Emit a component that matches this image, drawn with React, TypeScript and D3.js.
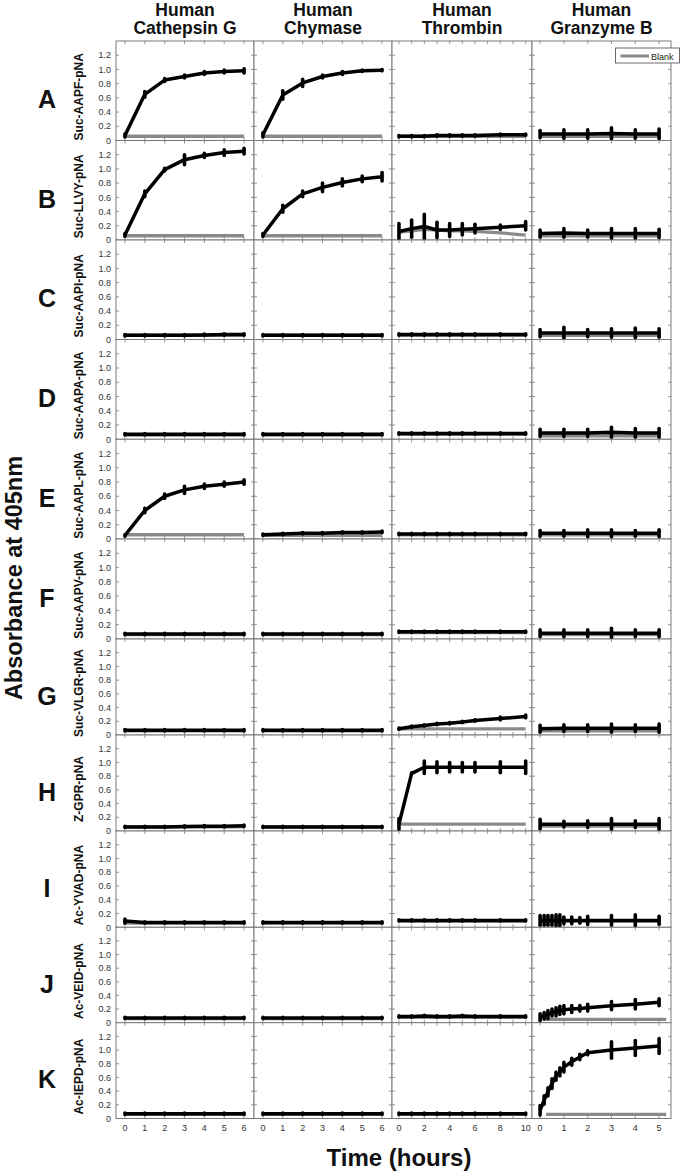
import React from "react";
import * as d3 from "d3";

// column headers (two lines each)
const enzymes = [
  ["Human", "Cathepsin G"],
  ["Human", "Chymase"],
  ["Human", "Thrombin"],
  ["Human", "Granzyme B"],
];
const rowLetters = ["A", "B", "C", "D", "E", "F", "G", "H", "I", "J", "K"];
const substrates = [
  "Suc-AAPF-pNA",
  "Suc-LLVY-pNA",
  "Suc-AAPI-pNA",
  "Suc-AAPA-pNA",
  "Suc-AAPL-pNA",
  "Suc-AAPV-pNA",
  "Suc-VLGR-pNA",
  "Z-GPR-pNA",
  "Ac-YVAD-pNA",
  "Ac-VEID-pNA",
  "Ac-IEPD-pNA",
];

// sampling times (hours)
const catTimes = [0, 1, 2, 3, 4, 5, 6];
const thrTimes = [0, 1, 2, 3, 4, 5, 6, 8, 10];
const gzTimes = [0, 1, 2, 3, 4, 5];
const gzFineTimes = [0, 0.17, 0.33, 0.5, 0.67, 0.83, 1, 1.33, 1.67, 2, 3, 4, 5];
const gzLateBlankTimes = [0.25, 1, 2, 3, 4, 5.3];

const xTicks = [
  [0, 1, 2, 3, 4, 5, 6],
  [0, 1, 2, 3, 4, 5, 6],
  [0, 1, 2, 3, 4, 5, 6, 7, 8, 9, 10],
  [0, 1, 2, 3, 4, 5],
];
const xTickLabels = [
  [0, 1, 2, 3, 4, 5, 6],
  [0, 1, 2, 3, 4, 5, 6],
  [0, 2, 4, 6, 8, 10],
  [0, 1, 2, 3, 4, 5],
];
const yTicks = [0, 0.2, 0.4, 0.6, 0.8, 1.0, 1.2];
const yTickLabels = ["0", "0.2", "0.4", "0.6", "0.8", "1.0", "1.2"];

// per substrate: [cathepsin G, chymase, thrombin, granzyme B]
const aapfMean = [
  [0.07, 0.65, 0.85, 0.9, 0.95, 0.97, 0.98],
  [0.08, 0.64, 0.81, 0.9, 0.95, 0.98, 0.99],
  [0.06, 0.06, 0.06, 0.07, 0.07, 0.07, 0.07, 0.08, 0.08],
  [0.09, 0.09, 0.09, 0.1, 0.09, 0.09],
];
const aapfErr = [
  [0.02, 0.04, 0.02, 0.02, 0.02, 0.02, 0.03],
  [0.03, 0.06, 0.05, 0.02, 0.02, 0.01, 0.01],
  [0.01, 0.01, 0.01, 0.01, 0.01, 0.01, 0.01, 0.01, 0.01],
  [0.05, 0.06, 0.06, 0.08, 0.06, 0.07],
];
const aapfBlank = [
  [0.06, 0.06, 0.06, 0.06, 0.06, 0.06, 0.06],
  [0.06, 0.06, 0.06, 0.06, 0.06, 0.06, 0.06],
  [0.06, 0.06, 0.06, 0.06, 0.06, 0.06, 0.06, 0.06, 0.06],
  [0.06, 0.06, 0.06, 0.06, 0.06, 0.06],
];

const llvyMean = [
  [0.07, 0.65, 0.99, 1.13, 1.19, 1.23, 1.25],
  [0.07, 0.44, 0.65, 0.74, 0.81, 0.86, 0.89],
  [0.12, 0.16, 0.19, 0.14, 0.14, 0.15, 0.16, 0.18, 0.2],
  [0.09, 0.1, 0.09, 0.09, 0.09, 0.09],
];
const llvyErr = [
  [0.02, 0.04, 0.02, 0.07, 0.03, 0.04, 0.04],
  [0.02, 0.05, 0.04, 0.06, 0.05, 0.04, 0.06],
  [0.11, 0.12, 0.17, 0.11, 0.09, 0.08, 0.06, 0.03, 0.06],
  [0.05, 0.06, 0.05, 0.07, 0.07, 0.06],
];
const llvyBlank = [
  [0.06, 0.06, 0.06, 0.06, 0.06, 0.06, 0.06],
  [0.06, 0.06, 0.06, 0.06, 0.06, 0.06, 0.06],
  [0.11, 0.13, 0.15, 0.14, 0.13, 0.13, 0.12, 0.1, 0.07],
  [0.06, 0.06, 0.06, 0.06, 0.06, 0.06],
];

const aapiMean = [
  [0.06, 0.06, 0.06, 0.06, 0.065, 0.07, 0.07],
  [0.06, 0.06, 0.06, 0.06, 0.06, 0.06, 0.06],
  [0.07, 0.07, 0.07, 0.07, 0.07, 0.07, 0.07, 0.07, 0.07],
  [0.09, 0.09, 0.09, 0.09, 0.09, 0.09],
];
const aapiErr = [
  [0.01, 0.01, 0.01, 0.01, 0.01, 0.01, 0.01],
  [0.01, 0.01, 0.01, 0.01, 0.01, 0.01, 0.01],
  [0.01, 0.01, 0.01, 0.01, 0.01, 0.01, 0.01, 0.01, 0.01],
  [0.05, 0.08, 0.05, 0.06, 0.07, 0.06],
];
const aapiBlank = [
  [0.06, 0.06, 0.06, 0.06, 0.06, 0.06, 0.06],
  [0.06, 0.06, 0.06, 0.06, 0.06, 0.06, 0.06],
  [0.06, 0.06, 0.06, 0.06, 0.06, 0.06, 0.06, 0.06, 0.06],
  [0.06, 0.06, 0.06, 0.06, 0.06, 0.06],
];

const aapaMean = [
  [0.07, 0.07, 0.07, 0.07, 0.07, 0.07, 0.07],
  [0.07, 0.07, 0.07, 0.07, 0.07, 0.07, 0.07],
  [0.08, 0.08, 0.08, 0.08, 0.08, 0.08, 0.08, 0.08, 0.08],
  [0.09, 0.09, 0.09, 0.1, 0.09, 0.09],
];
const aapaErr = [
  [0.01, 0.01, 0.01, 0.01, 0.01, 0.01, 0.01],
  [0.01, 0.01, 0.01, 0.01, 0.01, 0.01, 0.01],
  [0.01, 0.01, 0.01, 0.01, 0.01, 0.01, 0.01, 0.01, 0.01],
  [0.05, 0.05, 0.05, 0.07, 0.06, 0.06],
];
const aapaBlank = [
  [0.06, 0.06, 0.06, 0.06, 0.06, 0.06, 0.06],
  [0.06, 0.06, 0.06, 0.06, 0.06, 0.06, 0.06],
  [0.07, 0.07, 0.07, 0.07, 0.07, 0.07, 0.07, 0.07, 0.07],
  [0.05, 0.05, 0.05, 0.05, 0.05, 0.05],
];

const aaplMean = [
  [0.05, 0.4, 0.6, 0.69, 0.74, 0.77, 0.8],
  [0.06, 0.07, 0.08, 0.08, 0.09, 0.09, 0.1],
  [0.07, 0.07, 0.07, 0.07, 0.07, 0.07, 0.07, 0.07, 0.07],
  [0.08, 0.08, 0.08, 0.08, 0.08, 0.08],
];
const aaplErr = [
  [0.01, 0.03, 0.03, 0.05, 0.03, 0.03, 0.03],
  [0.01, 0.01, 0.01, 0.01, 0.01, 0.01, 0.01],
  [0.01, 0.01, 0.01, 0.01, 0.01, 0.01, 0.01, 0.01, 0.01],
  [0.04, 0.04, 0.05, 0.05, 0.04, 0.05],
];
const aaplBlank = [
  [0.06, 0.06, 0.06, 0.06, 0.06, 0.06, 0.06],
  [0.05, 0.05, 0.05, 0.05, 0.05, 0.05, 0.05],
  [0.06, 0.06, 0.06, 0.06, 0.06, 0.06, 0.06, 0.06, 0.06],
  [0.06, 0.06, 0.06, 0.06, 0.06, 0.06],
];

const aapvMean = [
  [0.07, 0.07, 0.07, 0.07, 0.07, 0.07, 0.07],
  [0.07, 0.07, 0.07, 0.07, 0.07, 0.07, 0.07],
  [0.1, 0.1, 0.1, 0.1, 0.1, 0.1, 0.1, 0.1, 0.1],
  [0.08, 0.08, 0.08, 0.08, 0.08, 0.08],
];
const aapvErr = [
  [0.01, 0.01, 0.01, 0.01, 0.01, 0.01, 0.01],
  [0.01, 0.01, 0.01, 0.01, 0.01, 0.01, 0.01],
  [0.01, 0.01, 0.01, 0.01, 0.01, 0.01, 0.01, 0.01, 0.01],
  [0.05, 0.05, 0.05, 0.07, 0.05, 0.05],
];
const aapvBlank = [
  [0.06, 0.06, 0.06, 0.06, 0.06, 0.06, 0.06],
  [0.06, 0.06, 0.06, 0.06, 0.06, 0.06, 0.06],
  [0.09, 0.09, 0.09, 0.09, 0.09, 0.09, 0.09, 0.09, 0.09],
  [0.06, 0.06, 0.06, 0.06, 0.06, 0.06],
];

const vlgrMean = [
  [0.07, 0.07, 0.07, 0.07, 0.07, 0.07, 0.07],
  [0.07, 0.07, 0.07, 0.07, 0.07, 0.07, 0.07],
  [0.09, 0.12, 0.14, 0.16, 0.17, 0.19, 0.21, 0.24, 0.27],
  [0.09, 0.1, 0.1, 0.1, 0.1, 0.1],
];
const vlgrErr = [
  [0.01, 0.01, 0.01, 0.01, 0.01, 0.01, 0.01],
  [0.01, 0.01, 0.01, 0.01, 0.01, 0.01, 0.01],
  [0.01, 0.01, 0.01, 0.01, 0.01, 0.01, 0.01, 0.02, 0.02],
  [0.05, 0.05, 0.05, 0.06, 0.05, 0.06],
];
const vlgrBlank = [
  [0.06, 0.06, 0.06, 0.06, 0.06, 0.06, 0.06],
  [0.06, 0.06, 0.06, 0.06, 0.06, 0.06, 0.06],
  [0.09, 0.09, 0.09, 0.09, 0.09, 0.09, 0.09, 0.09, 0.09],
  [0.06, 0.06, 0.06, 0.06, 0.06, 0.06],
];

const gprMean = [
  [0.06, 0.06, 0.06, 0.065, 0.07, 0.07, 0.075],
  [0.06, 0.06, 0.06, 0.06, 0.06, 0.06, 0.06],
  [0.1, 0.84, 0.93, 0.93, 0.93, 0.93, 0.93, 0.93, 0.93],
  [0.1, 0.1, 0.1, 0.1, 0.1, 0.1],
];
const gprErr = [
  [0.01, 0.01, 0.01, 0.01, 0.01, 0.01, 0.01],
  [0.01, 0.01, 0.01, 0.01, 0.01, 0.01, 0.01],
  [0.08, 0.01, 0.09, 0.08, 0.07, 0.07, 0.07, 0.08, 0.09],
  [0.07, 0.04, 0.05, 0.08, 0.05, 0.08],
];
const gprBlank = [
  [0.06, 0.06, 0.06, 0.06, 0.06, 0.06, 0.06],
  [0.06, 0.06, 0.06, 0.06, 0.06, 0.06, 0.06],
  [0.1, 0.1, 0.1, 0.1, 0.1, 0.1, 0.1, 0.1, 0.1],
  [0.07, 0.07, 0.07, 0.07, 0.07, 0.07],
];

const yvadMean = [
  [0.09, 0.07, 0.07, 0.07, 0.07, 0.07, 0.07],
  [0.07, 0.07, 0.07, 0.07, 0.07, 0.07, 0.07],
  [0.1, 0.1, 0.1, 0.1, 0.1, 0.1, 0.1, 0.1, 0.1],
  [0.1, 0.1, 0.1, 0.1, 0.1, 0.1, 0.1, 0.1, 0.1, 0.1, 0.1, 0.1, 0.1],
];
const yvadErr = [
  [0.03, 0.01, 0.01, 0.01, 0.01, 0.01, 0.01],
  [0.01, 0.01, 0.01, 0.01, 0.01, 0.01, 0.01],
  [0.01, 0.01, 0.01, 0.01, 0.01, 0.01, 0.01, 0.01, 0.01],
  [0.07, 0.07, 0.07, 0.07, 0.08, 0.08, 0.05, 0.05, 0.04, 0.06, 0.07, 0.08, 0.06],
];
const yvadBlank = [
  [0.06, 0.06, 0.06, 0.06, 0.06, 0.06, 0.06],
  [0.06, 0.06, 0.06, 0.06, 0.06, 0.06, 0.06],
  [0.09, 0.09, 0.09, 0.09, 0.09, 0.09, 0.09, 0.09, 0.09],
  [0.09, 0.09, 0.09, 0.09, 0.09, 0.09, 0.09, 0.09, 0.09, 0.09, 0.09, 0.09, 0.09],
];

const veidMean = [
  [0.07, 0.07, 0.07, 0.07, 0.07, 0.07, 0.07],
  [0.07, 0.07, 0.07, 0.07, 0.07, 0.07, 0.07],
  [0.09, 0.09, 0.1, 0.09, 0.09, 0.1, 0.09, 0.09, 0.09],
  [0.08, 0.1, 0.12, 0.15, 0.16, 0.18, 0.19, 0.2, 0.21, 0.22, 0.25, 0.27, 0.3],
];
const veidErr = [
  [0.01, 0.01, 0.01, 0.01, 0.01, 0.01, 0.01],
  [0.01, 0.01, 0.01, 0.01, 0.01, 0.01, 0.01],
  [0.01, 0.01, 0.01, 0.01, 0.01, 0.01, 0.01, 0.01, 0.01],
  [0.05, 0.05, 0.06, 0.05, 0.06, 0.06, 0.06, 0.05, 0.04, 0.05, 0.06, 0.07, 0.05],
];
const veidBlank = [
  [0.06, 0.06, 0.06, 0.06, 0.06, 0.06, 0.06],
  [0.06, 0.06, 0.06, 0.06, 0.06, 0.06, 0.06],
  [0.08, 0.08, 0.08, 0.08, 0.08, 0.08, 0.08, 0.08, 0.08],
  [0.05, 0.05, 0.05, 0.05, 0.05, 0.05],
];

const iepdMean = [
  [0.07, 0.07, 0.07, 0.07, 0.07, 0.07, 0.07],
  [0.07, 0.07, 0.07, 0.07, 0.07, 0.07, 0.07],
  [0.07, 0.07, 0.07, 0.07, 0.07, 0.07, 0.07, 0.07, 0.07],
  [0.12, 0.27, 0.39, 0.51, 0.62, 0.68, 0.75, 0.83, 0.9, 0.96, 1.0, 1.03, 1.06],
];
const iepdErr = [
  [0.01, 0.01, 0.01, 0.01, 0.01, 0.01, 0.01],
  [0.01, 0.01, 0.01, 0.01, 0.01, 0.01, 0.01],
  [0.01, 0.01, 0.01, 0.01, 0.01, 0.01, 0.01, 0.01, 0.01],
  [0.07, 0.06, 0.06, 0.07, 0.06, 0.06, 0.07, 0.05, 0.04, 0.03, 0.12, 0.11, 0.11],
];
const iepdBlank = [
  [0.06, 0.06, 0.06, 0.06, 0.06, 0.06, 0.06],
  [0.06, 0.06, 0.06, 0.06, 0.06, 0.06, 0.06],
  [0.06, 0.06, 0.06, 0.06, 0.06, 0.06, 0.06, 0.06, 0.06],
  [0.06, 0.06, 0.06, 0.06, 0.06, 0.06],
];

const rowMeans = [aapfMean, llvyMean, aapiMean, aapaMean, aaplMean, aapvMean, vlgrMean, gprMean, yvadMean, veidMean, iepdMean];
const rowErrs = [aapfErr, llvyErr, aapiErr, aapaErr, aaplErr, aapvErr, vlgrErr, gprErr, yvadErr, veidErr, iepdErr];
const rowBlanks = [aapfBlank, llvyBlank, aapiBlank, aapaBlank, aaplBlank, aapvBlank, vlgrBlank, gprBlank, yvadBlank, veidBlank, iepdBlank];

// granzyme B rows I-K were sampled every 10-20 min
const fineRows = ["I", "J", "K"];
const lateBlankRows = ["J", "K"];

// layout
const W = 684;
const H = 1176;
const colEdges = [116, 254, 392, 532, 671];
const rowEdges = [41, 140.5, 240, 339.5, 439.3, 539, 639, 735, 831, 927.3, 1022.7, 1118.5];
const xDomains = [
  [-0.45, 6.5],
  [-0.45, 6.5],
  [-0.55, 10.5],
  [-0.34, 5.5],
];
const FRAME = "#7a7a7a";
const BLANK = "#8a8a8a";
const FONT = "'Liberation Sans', Arial, Helvetica, sans-serif";

function timesFor(r: number, c: number, blank: boolean) {
  if (c < 2) return catTimes;
  if (c === 2) return thrTimes;
  const letter = rowLetters[r];
  if (blank && lateBlankRows.includes(letter)) return gzLateBlankTimes;
  if (fineRows.includes(letter)) return gzFineTimes;
  return gzTimes;
}

function Panel({ r, c }: { r: number; c: number }) {
  const x0 = colEdges[c];
  const x1 = colEdges[c + 1];
  const y0 = rowEdges[r];
  const y1 = rowEdges[r + 1];
  const x = d3.scaleLinear().domain(xDomains[c]).range([x0, x1]);
  const y = d3.scaleLinear().domain([0, 1.4]).range([y1, y0]);
  const line = d3.line<[number, number]>().x((d) => x(d[0])).y((d) => y(d[1]));

  const t = timesFor(r, c, false);
  const tb = timesFor(r, c, true);
  const mean = rowMeans[r][c];
  const err = rowErrs[r][c];
  const blank = rowBlanks[r][c];

  const meanPts = t.map((v, i) => [v, mean[i]] as [number, number]);
  const blankPts = tb.map((v, i) => [v, blank[i]] as [number, number]);

  return (
    <g>
      <rect x={x0} y={y0} width={x1 - x0} height={y1 - y0} fill="#fff" stroke={FRAME} strokeWidth={1} />
      {xTicks[c].map((v) => (
        <g key={"xt" + v} stroke={FRAME} strokeWidth={0.8}>
          <line x1={x(v)} x2={x(v)} y1={y1} y2={y1 - 3} />
          <line x1={x(v)} x2={x(v)} y1={y0} y2={y0 + 3} />
        </g>
      ))}
      {yTicks.map((v) => (
        <g key={"yt" + v} stroke={FRAME} strokeWidth={0.8}>
          <line x1={x0} x2={x0 + 3} y1={y(v)} y2={y(v)} />
          <line x1={x1} x2={x1 - 3} y1={y(v)} y2={y(v)} />
        </g>
      ))}
      <path d={line(blankPts) || ""} fill="none" stroke={BLANK} strokeWidth={3.3} />
      <path d={line(meanPts) || ""} fill="none" stroke="#000" strokeWidth={3.5} strokeLinejoin="round" />
      {meanPts.map((p, i) => (
        <line
          key={"e" + i}
          x1={x(p[0])}
          x2={x(p[0])}
          y1={y(p[1] - err[i])}
          y2={y(p[1] + err[i])}
          stroke="#000"
          strokeWidth={3.6}
          strokeLinecap="round"
        />
      ))}
      {c === 0 &&
        yTicks.map((v, i) => (
          <text key={"yl" + v} x={x0 - 5} y={y(v) + 3.2} fontSize={9} fill="#333" textAnchor="end">
            {yTickLabels[i]}
          </text>
        ))}
      {r === rowLetters.length - 1 &&
        xTickLabels[c].map((v) => (
          <text key={"xl" + v} x={x(v)} y={1130.5} fontSize={9} fill="#333" textAnchor="middle">
            {v}
          </text>
        ))}
    </g>
  );
}

export default function App() {
  return (
    <svg
      width={W}
      height={H}
      style={{ position: "absolute", left: 0, top: 0, background: "#fff" }}
      fontFamily={FONT}
    >
      <rect x={0} y={0} width={W} height={H} fill="#fff" />
      {enzymes.map((lines, c) => {
        const cx = (colEdges[c] + colEdges[c + 1]) / 2;
        return (
          <g key={"h" + c} fontWeight="bold" fontSize={17.5} textAnchor="middle" fill="#111">
            <text x={cx} y={16}>{lines[0]}</text>
            <text x={cx} y={34}>{lines[1]}</text>
          </g>
        );
      })}
      {rowLetters.map((letter, r) => {
        const mid = (rowEdges[r] + rowEdges[r + 1]) / 2;
        return (
          <g key={"row" + r}>
            <text x={47} y={mid + 17.5} fontSize={25} fontWeight="bold" textAnchor="middle" fill="#111">
              {letter}
            </text>
            <text
              transform={`translate(83,${mid + 6}) rotate(-90)`}
              fontSize={12}
              fontWeight="bold"
              textAnchor="middle"
              fill="#111"
            >
              {substrates[r]}
            </text>
            {enzymes.map((_, c) => (
              <Panel key={"p" + c} r={r} c={c} />
            ))}
          </g>
        );
      })}
      {/* legend */}
      <g>
        <rect x={615.5} y={48} width={64} height={15} fill="#fff" stroke="#444" strokeWidth={0.8} />
        <line x1={620.5} x2={649} y1={56} y2={56} stroke={BLANK} strokeWidth={3} />
        <text x={651} y={59.5} fontSize={9} fill="#222">Blank</text>
      </g>
      <text
        transform="translate(22,578) rotate(-90)"
        fontSize={23.5}
        fontWeight="bold"
        textAnchor="middle"
        fill="#111"
      >
        Absorbance at 405nm
      </text>
      <text x={399} y={1166} fontSize={24} fontWeight="bold" textAnchor="middle" fill="#111">
        Time (hours)
      </text>
    </svg>
  );
}
